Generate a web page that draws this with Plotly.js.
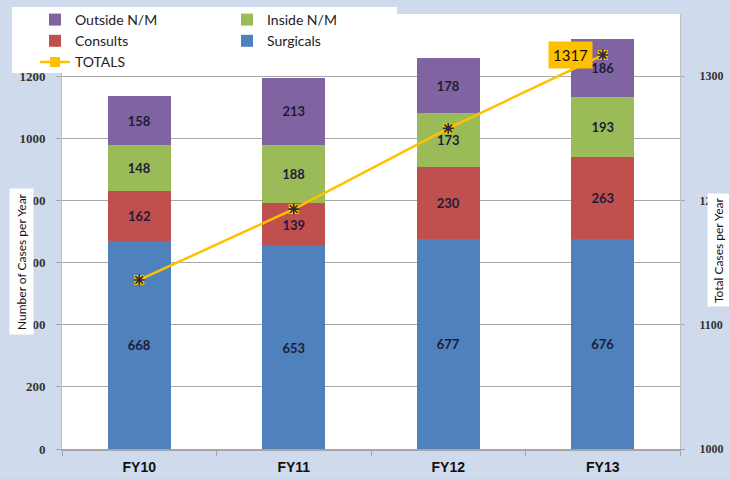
<!DOCTYPE html>
<html>
<head>
<meta charset="utf-8">
<script src="https://cdn.plot.ly/plotly-3.0.1.min.js"></script>
<style>html,body{margin:0;padding:0;background:#cfdbec;} #chart{width:729px;height:479px;}</style>
</head>
<body>
<div id="chart"></div>
<script>
// ---- data ----
const categories = ["FY10", "FY11", "FY12", "FY13"];
const surgicals  = [668, 653, 677, 676];
const consults   = [162, 139, 230, 263];
const insideNM   = [148, 188, 173, 193];
const outsideNM  = [158, 213, 178, 186];
const totals     = [1136, 1193, 1258, 1317];
const leftTicks  = [0, 200, 400, 600, 800, 1000, 1200, 1400];
const rightTicks = [1000, 1100, 1200, 1300];

const labelFont = {family: "Lato, 'Open Sans', sans-serif", size: 13, color: "#1c1c38", weight: "bold"};

function barTrace(name, vals, color, legend, rank) {
  return {
    type: "bar", name: name, x: categories, y: vals,
    marker: {color: color},
    text: vals.map(String), textposition: "inside", insidetextanchor: "middle",
    textangle: 0, constraintext: "none", textfont: labelFont,
    legend: legend, legendrank: rank, hoverinfo: "skip"
  };
}

const traces = [
  barTrace("Surgicals", surgicals, "#4f81bd", "legend2", 2),
  barTrace("Consults", consults, "#c0504d", "legend", 2),
  barTrace("Inside N/M", insideNM, "#9bbb59", "legend2", 1),
  barTrace("Outside N/M", outsideNM, "#8064a2", "legend", 1),
  {
    type: "scatter", mode: "lines+markers", name: "TOTALS", x: categories, y: totals, yaxis: "y2",
    line: {color: "#ffc000", width: 2.5},
    marker: {symbol: "square", size: 10, color: "#ffc000", line: {width: 0}},
    legend: "legend", legendrank: 3, hoverinfo: "skip"
  },
  {
    type: "scatter", mode: "markers", x: categories, y: totals, yaxis: "y2", showlegend: false,
    marker: {symbol: "asterisk-open", size: 9, color: "#2a2a40", line: {width: 1.6, color: "#2a2a40"}},
    hoverinfo: "skip"
  }
];

const L = 62, R = 49, T = 14, B = 30, W = 729, H = 479;
const pw = W - L - R, ph = H - T - B;
const px = v => (v - L) / pw;
const py = v => (H - B - v) / ph;

const legendFont = {family: "Lato, 'Open Sans', sans-serif", size: 14, color: "#222"};

const layout = {
  width: W, height: H,
  margin: {l: L, r: R, t: T, b: B, pad: 0, autoexpand: false},
  paper_bgcolor: "#cfdbec",
  plot_bgcolor: "#ffffff",
  barmode: "stack",
  bargap: 0.595,
  showlegend: true,
  font: {family: "Lato, 'Open Sans', sans-serif", color: "#222"},
  xaxis: {
    type: "category", showline: true, linecolor: "#a6a6a6", linewidth: 1.5,
    ticks: "outside", tickson: "boundaries", ticklen: 5, tickcolor: "#a6a6a6",
    tickfont: {family: "'Liberation Sans', Arial, sans-serif", size: 14, color: "#111", weight: "bold"},
    ticklabelstandoff: 5,
    showgrid: false, fixedrange: true
  },
  yaxis: {
    range: [0, 1400], tickvals: leftTicks, ticktext: leftTicks.map(String),
    showline: true, linecolor: "#bfbfbf", linewidth: 1,
    ticks: "outside", ticklen: 5, tickcolor: "#a6a6a6",
    showgrid: true, gridcolor: "#a8a8a8", gridwidth: 1, zeroline: false,
    tickfont: {family: "'Liberation Serif', serif", size: 13, color: "#333", weight: "bold"},
    ticklabelstandoff: 8, fixedrange: true
  },
  yaxis2: {
    overlaying: "y", side: "right", range: [1000, 1350], tickvals: rightTicks,
    showline: true, linecolor: "#bfbfbf", linewidth: 1,
    ticks: "outside", ticklen: 4, tickcolor: "#a6a6a6",
    showgrid: false, zeroline: false,
    tickfont: {family: "'Liberation Serif', serif", size: 12, color: "#333", weight: "bold"},
    ticklabelstandoff: 12, fixedrange: true
  },
  legend: {
    x: px(35), xanchor: "left", y: py(4), yanchor: "top",
    bgcolor: "rgba(0,0,0,0)", borderwidth: 0, traceorder: "normal",
    font: legendFont, tracegroupgap: 0
  },
  legend2: {
    x: px(227), xanchor: "left", y: py(4), yanchor: "top",
    bgcolor: "rgba(0,0,0,0)", borderwidth: 0, traceorder: "normal",
    font: legendFont, tracegroupgap: 0
  },
  shapes: [
    {type: "rect", xref: "paper", yref: "paper", x0: px(12), x1: px(397), y0: py(7), y1: py(73),
     fillcolor: "#ffffff", line: {width: 0}, layer: "above"}
  ],
  annotations: [
    {xref: "paper", yref: "paper", x: px(21), y: py(262), xanchor: "center", yanchor: "middle",
     text: "Number of Cases per Year",
     textangle: -90, showarrow: false, bgcolor: "#ffffff", borderpad: 4,
     font: {family: "Lato, 'Open Sans', sans-serif", size: 12, color: "#111"}},
    {xref: "paper", yref: "paper", x: px(718), y: py(250), xanchor: "center", yanchor: "middle",
     text: "Total Cases per Year",
     textangle: -90, showarrow: false, bgcolor: "#ffffff", borderpad: 3,
     font: {family: "Lato, 'Open Sans', sans-serif", size: 12, color: "#111"}},
    {xref: "x", yref: "y2", x: categories[3], y: totals[3], text: String(totals[3]),
     xanchor: "center", yanchor: "middle",
     xshift: -32, yshift: 0, showarrow: false, bgcolor: "#ffc000", borderpad: 4,
     font: {family: "Lato, 'Open Sans', sans-serif", size: 15, color: "#111"}}
  ]
};

Plotly.newPlot("chart", traces, layout, {staticPlot: true, displayModeBar: false});
</script>
</body>
</html>
